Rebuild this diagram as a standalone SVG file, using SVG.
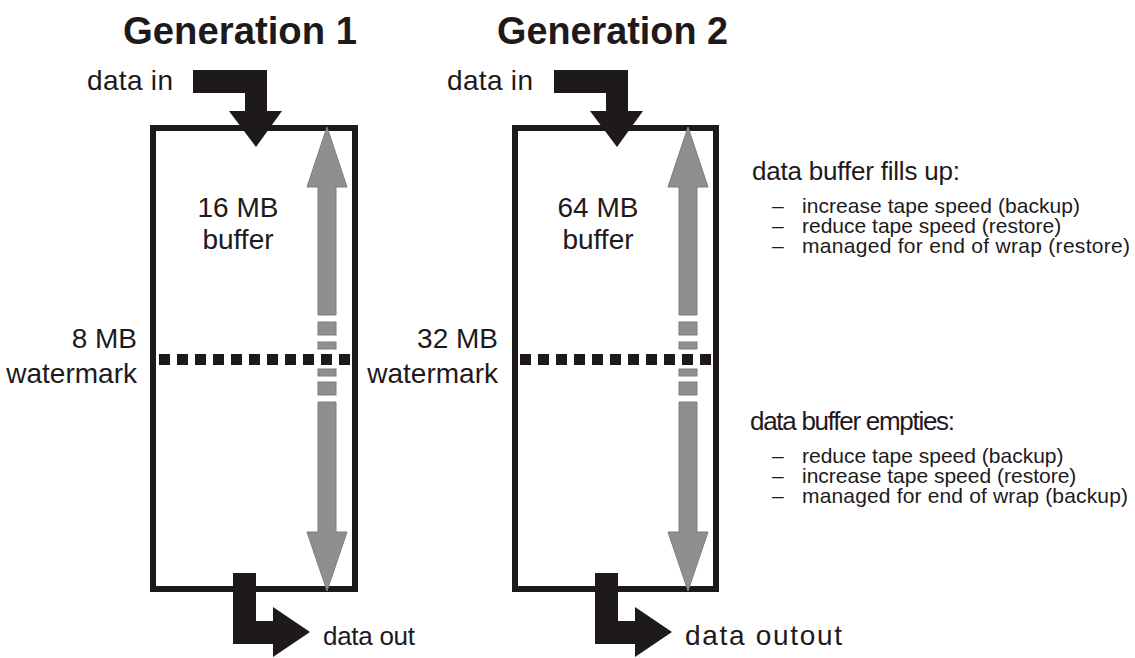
<svg xmlns="http://www.w3.org/2000/svg" width="1135" height="658" viewBox="0 0 1135 658">
<style>
.t{font-family:"Liberation Sans",Arial,sans-serif;fill:#1e1a1b}
.h{font-size:39px;font-weight:bold}
.l{font-size:28px}
.r{font-size:26px}
.b{font-size:21px}
.box{fill:none;stroke:#1e1a1b;stroke-width:6}
.blk{fill:#1e1a1b}
.gray{fill:#8f8f8f;stroke:#7d7d7d;stroke-width:1}
.dash{stroke:#1e1a1b;stroke-width:11;stroke-dasharray:11 7}
</style>
<defs>
<g id="grayArrow">
<polygon class="gray" points="327,127 347,187 336,187 336,315 318,315 318,187 307,187"/>
<rect class="gray" x="318" y="322" width="18" height="13"/>
<rect class="gray" x="318" y="342" width="18" height="7"/>
<rect class="gray" x="318" y="369" width="18" height="7"/>
<rect class="gray" x="318" y="382" width="18" height="13"/>
<polygon class="gray" points="318,402 336,402 336,532 347,532 327,591 307,532 318,532"/>
</g>
<polygon id="inArrow" points="193,70 267,70 267,111 282,111 256,147 229,111 245,111 245,93 193,93"/>
<polygon id="outArrow" points="233,573 256,573 256,621 273,621 273,607 310,632 273,657 273,644 233,644"/>
</defs>
<rect width="1135" height="658" fill="#ffffff"/>

<g id="gen1">
<text class="t h" x="123" y="44" textLength="234" lengthAdjust="spacingAndGlyphs">Generation 1</text>
<rect class="box" x="153" y="128" width="202" height="461"/>
<use href="#grayArrow"/>
<line class="dash" x1="159" y1="359.5" x2="350" y2="359.5"/>
<text class="t l" x="238" y="217" text-anchor="middle">16 MB</text>
<text class="t l" x="238" y="249" text-anchor="middle">buffer</text>
<text class="t l" x="137" y="348" text-anchor="end">8 MB</text>
<text class="t l" x="137" y="383" text-anchor="end">watermark</text>
</g>

<g id="gen2">
<text class="t h" x="497" y="44" textLength="231" lengthAdjust="spacingAndGlyphs">Generation 2</text>
<rect class="box" x="515" y="128" width="201" height="461"/>
<use href="#grayArrow" transform="translate(361,0)"/>
<line class="dash" x1="520" y1="359.5" x2="711" y2="359.5"/>
<text class="t l" x="598" y="217" text-anchor="middle">64 MB</text>
<text class="t l" x="598" y="249" text-anchor="middle">buffer</text>
<text class="t l" x="498" y="348" text-anchor="end">32 MB</text>
<text class="t l" x="498" y="383" text-anchor="end">watermark</text>
</g>

<g id="connectors">
<use href="#inArrow" class="blk"/>
<use href="#inArrow" class="blk" transform="translate(361,0)"/>
<use href="#outArrow" class="blk"/>
<use href="#outArrow" class="blk" transform="translate(362,0)"/>
</g>

<g id="labels">
<text class="t l" x="87" y="90" textLength="86">data in</text>
<text class="t l" x="447" y="90" textLength="86">data in</text>
<text class="t" style="font-size:26px" x="323" y="645" textLength="92">data out</text>
<text class="t" style="font-size:28px" x="685" y="645" textLength="157">data outout</text>
</g>

<g id="fills">
<text class="t r" x="752" y="180" textLength="208">data buffer fills up:</text>
<text class="t b" y="213"><tspan x="772">–</tspan><tspan x="802" textLength="278">increase tape speed (backup)</tspan></text>
<text class="t b" y="233"><tspan x="772">–</tspan><tspan x="802">reduce tape speed (restore)</tspan></text>
<text class="t b" y="253"><tspan x="772">–</tspan><tspan x="802" textLength="328">managed for end of wrap (restore)</tspan></text>
</g>

<g id="empties">
<text class="t r" x="750" y="430" textLength="205">data buffer empties:</text>
<text class="t b" y="463"><tspan x="772">–</tspan><tspan x="802">reduce tape speed (backup)</tspan></text>
<text class="t b" y="483"><tspan x="772">–</tspan><tspan x="802">increase tape speed (restore)</tspan></text>
<text class="t b" y="503"><tspan x="772">–</tspan><tspan x="802" textLength="326">managed for end of wrap (backup)</tspan></text>
</g>
</svg>
